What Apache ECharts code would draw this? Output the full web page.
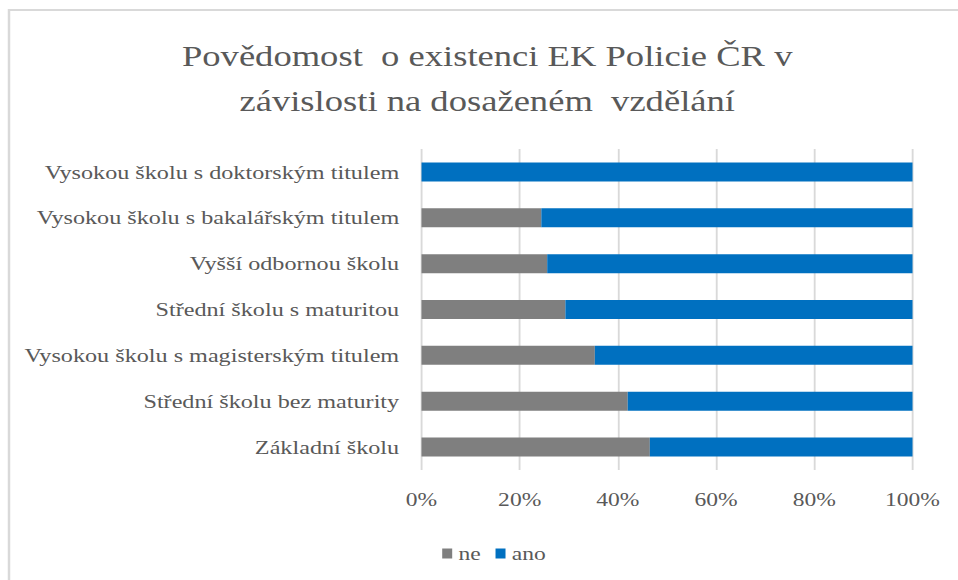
<!DOCTYPE html>
<html>
<head>
<meta charset="utf-8">
<script src="https://cdn.jsdelivr.net/npm/echarts@6/dist/echarts.min.js"></script>
<style>
  html, body { margin: 0; padding: 0; background: #fff; overflow: hidden; }
  /* the reference is an Excel chart stretched sideways, so draw narrower and stretch */
  #chart {
    width: 772.6px;
    height: 580px;
    transform: scaleX(1.24);
    transform-origin: 0 0;
  }
</style>
</head>
<body>
<div id="chart"></div>
<script>
const FONT = "'Liberation Serif', 'Times New Roman', serif"
const TEXT_COLOR = '#595959'
const SX = 1.24 // horizontal stretch, screen px = chart px * SX

// bottom to top, as ECharts lays out a category y axis
const categories = [
  'Základní školu',
  'Střední školu bez maturity',
  'Vysokou školu s magisterským titulem',
  'Střední školu s maturitou',
  'Vyšší odbornou školu',
  'Vysokou školu s bakalářským titulem',
  'Vysokou školu s doktorským titulem'
]
const neValues = [46.5, 42.0, 35.3, 29.3, 25.6, 24.4, 0]
const anoValues = [53.5, 58.0, 64.7, 70.7, 74.4, 75.6, 100]
const xTicks = [0, 20, 40, 60, 80, 100]

const chart = echarts.init(document.getElementById('chart'), null, { renderer: 'svg' })

chart.setOption({
  animation: false,
  textStyle: { fontFamily: FONT },
  title: {
    text: 'Povědomost  o existenci EK Policie ČR v\nzávislosti na dosaženém  vzdělání',
    left: 481 / SX,
    top: 28,
    textAlign: 'center',
    textStyle: {
      fontFamily: FONT,
      fontSize: 29.5,
      fontWeight: 'normal',
      color: TEXT_COLOR,
      lineHeight: 45
    }
  },
  graphic: [{
    type: 'rect',
    silent: true,
    z: -10,
    shape: { x: 9 / SX, y: 10, width: 1000, height: 700 },
    style: { fill: 'none', stroke: '#d9d9d9', lineWidth: 2 }
  }],
  legend: {
    left: 436 / SX,
    top: 539,
    icon: 'rect',
    itemWidth: 10 / SX,
    itemHeight: 10,
    itemGap: 12,
    textStyle: { fontFamily: FONT, fontSize: 19, color: TEXT_COLOR },
    data: ['ne', 'ano']
  },
  grid: {
    left: 421.5 / SX,
    right: 46 / SX,
    top: 149,
    height: 321,
    containLabel: false
  },
  xAxis: {
    type: 'value',
    min: 0,
    max: 100,
    interval: 20,
    axisLine: { show: false },
    axisTick: { show: false },
    splitLine: { lineStyle: { color: '#d9d9d9', width: 1.5 } },
    axisLabel: {
      margin: 20,
      fontFamily: FONT,
      fontSize: 19,
      color: TEXT_COLOR,
      formatter: v => (xTicks.includes(v) ? v + '%' : '')
    }
  },
  yAxis: {
    type: 'category',
    data: categories,
    axisLine: { show: false },
    axisTick: { show: false },
    axisLabel: {
      margin: 18,
      fontFamily: FONT,
      fontSize: 19.5,
      color: TEXT_COLOR
    }
  },
  series: [
    {
      name: 'ne',
      type: 'bar',
      stack: 'total',
      data: neValues,
      barWidth: 19,
      itemStyle: { color: '#7f7f7f' }
    },
    {
      name: 'ano',
      type: 'bar',
      stack: 'total',
      data: anoValues,
      barWidth: 19,
      itemStyle: { color: '#0070c0' }
    }
  ]
})
</script>
</body>
</html>
